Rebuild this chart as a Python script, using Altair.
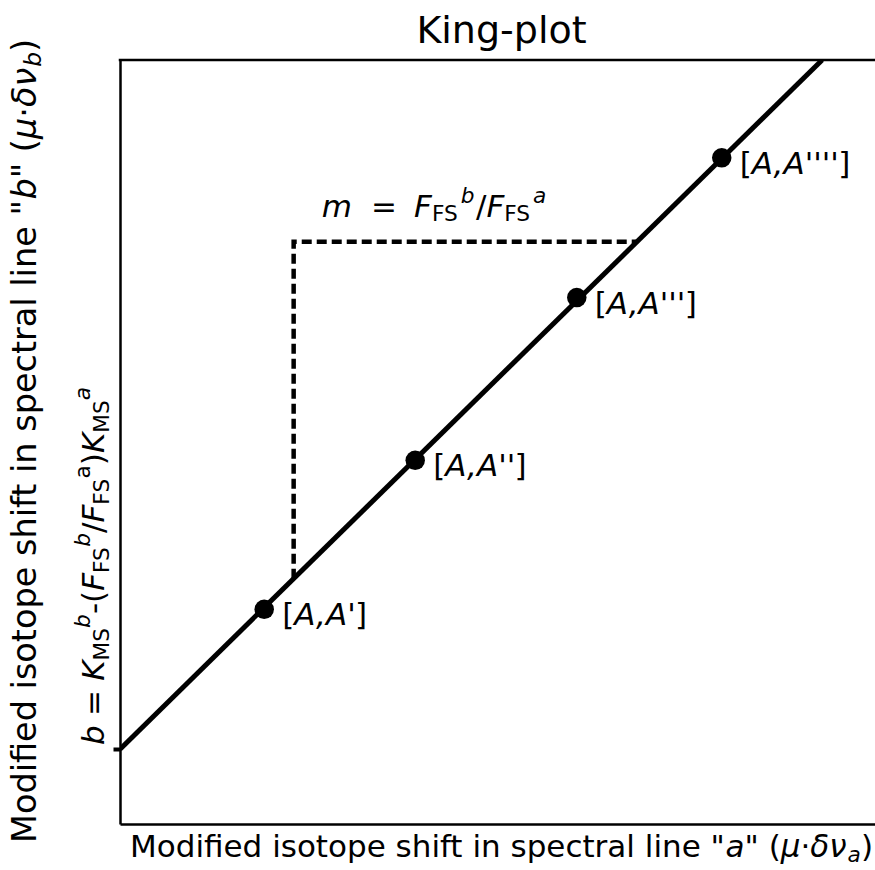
import altair as alt
import pandas as pd

FONT = "DejaVu Sans"
LABEL_SIZE = 31
YTITLE_SIZE = 33.5
TITLE_SIZE = 38

# Modified isotope shifts of the four isotope pairs (arbitrary units)
pair_names = ["A,A'", "A,A''", "A,A'''", "A,A''''"]
shift_a = [1.91, 3.91, 6.05, 7.97]
shift_b = [2.81, 4.76, 6.89, 8.72]

# King line end points; it crosses the b axis at the intercept
king_a = [0.0, 9.30]
king_b = [0.98, 10.0]
intercept_b = 0.98

# slope triangle: vertical leg, then horizontal leg back to the line
step_a = [2.30, 2.30, 6.84]
step_b = [3.21, 7.62, 7.62]

PLOT_W, PLOT_H = 755, 764

# DejaVu Sans advance widths (em) used to lay out mixed-style text runs
ADV = {
    " ": 0.318, '"': 0.460, "'": 0.275, "(": 0.390, ")": 0.390,
    ",": 0.318, "-": 0.361, ".": 0.318, "/": 0.337, "=": 0.838, "[": 0.390,
    "]": 0.390, "A": 0.684, "F": 0.575, "K": 0.656, "M": 0.863, "S": 0.635,
    "a": 0.613, "b": 0.635, "c": 0.550, "d": 0.635, "e": 0.615, "f": 0.352,
    "g": 0.635, "h": 0.634, "i": 0.278, "l": 0.278, "m": 0.974, "n": 0.634,
    "o": 0.612, "p": 0.635, "r": 0.411, "s": 0.521, "t": 0.392, "u": 0.634,
    "μ": 0.636, "·": 0.318, "δ": 0.612, "ν": 0.592,
}
RISE = {"": 0.0, "sub": -0.15, "sup": 0.45}


def text_width(s):
    return sum(ADV.get(c, 0.6) for c in s)


def layout_runs(runs, size):
    """Each run: (text, italic, level[, extra gap in em after it])."""
    placed = []
    pos = 0.0
    for run in runs:
        text, italic, level = run[:3]
        gap = run[3] if len(run) > 3 else 0.0
        fs = size * (0.7 if level else 1.0)
        if text:
            placed.append((text, italic, fs, pos, RISE[level] * size))
        pos += text_width(text) * fs + gap * size
    return placed, pos


ONE = alt.Data(values=[{}])

XS = alt.Scale(domain=[0, 10], nice=False, zero=False)
YS = alt.Scale(domain=[0, 10], nice=False, zero=False)
XAX = alt.Axis(title=None, labels=False, ticks=False, grid=False,
               domain=True, domainColor="black", domainWidth=2.5)
YAX = alt.Axis(title=None, labels=False, ticks=True, values=[intercept_b],
               tickSize=7, tickWidth=4, tickColor="black", grid=False,
               domain=True, domainColor="black", domainWidth=2.5)


def X(field):
    return alt.X(field, type="quantitative", scale=XS, axis=XAX)


def Y(field):
    return alt.Y(field, type="quantitative", scale=YS, axis=YAX)


def pixel_text(runs, x0, y0, size, angle=0):
    layers = []
    placed, _ = layout_runs(runs, size)
    for text, italic, fs, pos, rise in placed:
        if angle == 0:
            x, y = x0 + pos, y0 - rise
        else:
            x, y = x0 - rise, y0 - pos
        layers.append(
            alt.Chart(ONE).mark_text(
                align="left", baseline="alphabetic", font=FONT, fontSize=fs,
                fontStyle="italic" if italic else "normal", angle=angle, color="black",
            ).encode(x=alt.value(x), y=alt.value(y), text=alt.value(text))
        )
    return layers


def anchored_text(runs, a, b, size, dx, dy):
    df = pd.DataFrame({"a": [a], "b": [b]})
    layers = []
    placed, _ = layout_runs(runs, size)
    for text, italic, fs, pos, rise in placed:
        layers.append(
            alt.Chart(df).mark_text(
                align="left", baseline="alphabetic", font=FONT, fontSize=fs,
                fontStyle="italic" if italic else "normal", color="black",
                dx=dx + pos, dy=dy - rise,
            ).encode(x=X("a"), y=Y("b"), text=alt.value(text))
        )
    return layers


layers = []

# frame top edge (left and bottom come from the axis domains)
layers.append(
    alt.Chart(ONE).mark_rule(color="black", strokeWidth=2.5)
    .encode(x=alt.value(-1.25), x2=alt.value(PLOT_W), y=alt.value(0))
)

king = pd.DataFrame({"a": king_a, "b": king_b})
layers.append(
    alt.Chart(king).mark_line(color="black", strokeWidth=5, clip=True)
    .encode(x=X("a"), y=Y("b"))
)

step = pd.DataFrame({"a": step_a, "b": step_b, "k": [0, 1, 2]})
layers.append(
    alt.Chart(step).mark_line(color="black", strokeWidth=4.5, strokeDash=[10, 5])
    .encode(x=X("a"), y=Y("b"), order=alt.Order("k:Q"))
)

pts = pd.DataFrame({"a": shift_a, "b": shift_b, "pair": pair_names})
layers.append(
    alt.Chart(pts).mark_circle(color="black", size=380, opacity=1)
    .encode(x=X("a"), y=Y("b"))
)

# isotope-pair labels: upright brackets around the italic pair name
for a, b, name in zip(shift_a, shift_b, pair_names):
    layers += anchored_text(
        [("[", False, ""), (name, True, ""), ("]", False, "")],
        a, b, LABEL_SIZE, dx=18, dy=16,
    )

# slope annotation above the triangle
layers += anchored_text(
    [("m", True, "", 0.62), ("=", False, "", 0.55), ("F", True, ""),
     ("FS", False, "sub", 0.08), ("b", True, "sup", 0.05), ("/", False, ""),
     ("F", True, ""), ("FS", False, "sub", 0.08), ("a", True, "sup")],
    step_a[1], step_b[1], LABEL_SIZE, dx=28, dy=-25,
)

# title
layers.append(
    alt.Chart(ONE).mark_text(
        align="center", baseline="alphabetic", font=FONT, fontSize=TITLE_SIZE, color="black",
    ).encode(x=alt.value(381.5), y=alt.value(-17), text=alt.value("King-plot"))
)

# x axis title
layers += pixel_text(
    [('Modified isotope shift in spectral line "', False, ""), ("a", True, ""),
     ('" (', False, ""), ("μ", True, ""), ("·", False, ""), ("δν", True, ""),
     ("a", True, "sub"), (")", False, "")],
    10, 797, LABEL_SIZE,
)

# y axis title
layers += pixel_text(
    [('Modified isotope shift in spectral line "', False, ""), ("b", True, ""),
     ('" (', False, ""), ("μ", True, ""), ("·", False, ""), ("δν", True, ""),
     ("b", True, "sub"), (")", False, "")],
    -84, 783, YTITLE_SIZE, angle=270,
)

# intercept label on the b axis
layers += pixel_text(
    [("b", True, "", 0.3), ("=", False, "", 0.3), ("K", True, ""), ("MS", False, "sub"),
     ("b", True, "sup"), ("-(", False, ""), ("F", True, ""), ("FS", False, "sub"),
     ("b", True, "sup"), ("/", False, ""), ("F", True, ""), ("FS", False, "sub"),
     ("a", False, "sup"), (")", False, ""), ("K", True, ""), ("MS", False, "sub"),
     ("a", True, "sup")],
    -16, 685, LABEL_SIZE, angle=270,
)

chart = alt.layer(*layers).properties(
    width=PLOT_W,
    height=PLOT_H,
    padding={"left": 120, "top": 60, "right": 0, "bottom": 46},
    autosize=alt.AutoSizeParams(type="none"),
).configure_view(stroke=None)

chart.save("out.html", embed_options={"renderer": "svg", "actions": False})
